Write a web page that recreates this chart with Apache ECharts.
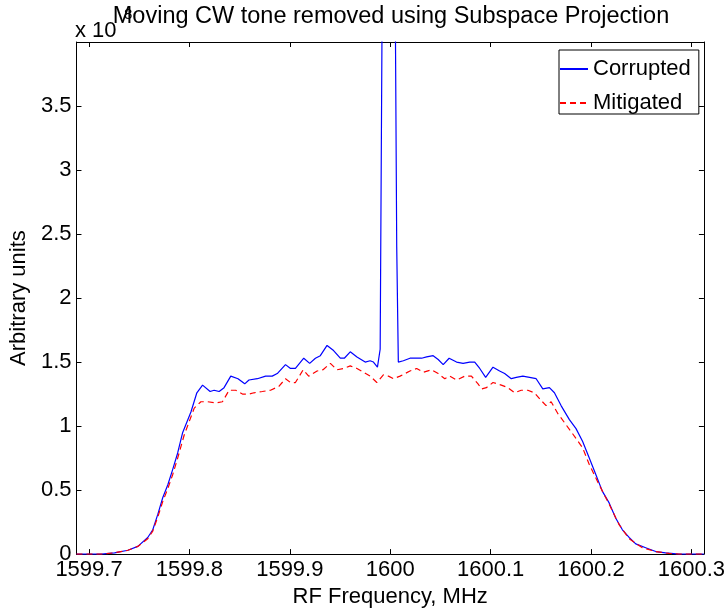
<!DOCTYPE html>
<html>
<head>
<meta charset="utf-8">
<script src="https://cdn.jsdelivr.net/npm/echarts@6/dist/echarts.min.js"></script>
<style>
html,body{margin:0;padding:0;background:#fff;}
#chart{width:728px;height:613px;}
</style>
</head>
<body>
<div id="chart"></div>
<script>
// ---- data (values in units of 1e8) ----
const xTicks = [1599.7, 1599.8, 1599.9, 1600.0, 1600.1, 1600.2, 1600.3];
const yTicks = [0, 0.5, 1, 1.5, 2, 2.5, 3, 3.5];

const blueFreq = [1599.6875, 1599.7122, 1599.7254, 1599.7387, 1599.7486, 1599.7585, 1599.7635, 1599.7685,
  1599.7734, 1599.7784, 1599.7833, 1599.7883, 1599.7933, 1599.8015, 1599.8074, 1599.8131, 1599.8206,
  1599.8246, 1599.8296, 1599.8345, 1599.8412, 1599.8484, 1599.8551, 1599.8593, 1599.8677, 1599.8759,
  1599.8825, 1599.8875, 1599.8957, 1599.9007, 1599.9056, 1599.9139, 1599.9198, 1599.9255, 1599.9304,
  1599.9371, 1599.9436, 1599.9503, 1599.9543, 1599.9602, 1599.9669, 1599.9751, 1599.9800, 1599.9833,
  1599.9873, 1599.9900, 1599.9984, 1600.0065, 1600.0081, 1600.0131, 1600.0197, 1600.0264, 1600.0313,
  1600.0363, 1600.0428, 1600.0478, 1600.0528, 1600.0587, 1600.0661, 1600.0726, 1600.0792, 1600.0842,
  1600.0892, 1600.0951, 1600.1024, 1600.1090, 1600.1140, 1600.1206, 1600.1256, 1600.1321, 1600.1388,
  1600.1454, 1600.1520, 1600.1586, 1600.1636, 1600.1702, 1600.1785, 1600.1851, 1600.1917, 1600.1983,
  1600.2049, 1600.2114, 1600.2181, 1600.2247, 1600.2313, 1600.2380, 1600.2446, 1600.2545, 1600.2645,
  1600.2744, 1600.2876, 1600.3125];
const blueVal = [0, 0, 0.01, 0.03, 0.06, 0.13, 0.19, 0.31,
  0.44, 0.54, 0.66, 0.79, 0.95, 1.11, 1.26, 1.32, 1.27,
  1.28, 1.27, 1.30, 1.39, 1.37, 1.33, 1.36, 1.37, 1.39,
  1.39, 1.41, 1.48, 1.45, 1.45, 1.53, 1.49, 1.53, 1.55,
  1.63, 1.59, 1.53, 1.53, 1.58, 1.54, 1.50, 1.51, 1.50,
  1.46, 1.60, 13.0, 2.40, 1.50, 1.51, 1.53, 1.53, 1.53,
  1.54, 1.55, 1.52, 1.48, 1.53, 1.50, 1.49, 1.50, 1.50,
  1.45, 1.38, 1.46, 1.43, 1.41, 1.37, 1.38, 1.39, 1.38,
  1.37, 1.29, 1.30, 1.26, 1.16, 1.05, 0.98, 0.88, 0.75,
  0.62, 0.49, 0.40, 0.28, 0.19, 0.13, 0.08, 0.05, 0.02,
  0.01, 0, 0];

const redFreq = [1599.6875, 1599.7122, 1599.7254, 1599.7387, 1599.7486, 1599.7585, 1599.7635, 1599.7685,
  1599.7734, 1599.7784, 1599.7833, 1599.7883, 1599.7948, 1599.8048, 1599.8114, 1599.8181, 1599.8263,
  1599.8329, 1599.8395, 1599.8461, 1599.8528, 1599.8593, 1599.8643, 1599.8726, 1599.8808, 1599.8891,
  1599.8957, 1599.9007, 1599.9056, 1599.9133, 1599.9188, 1599.9272, 1599.9331, 1599.9404, 1599.9470,
  1599.9536, 1599.9602, 1599.9669, 1599.9734, 1599.9800, 1599.9867, 1599.9932, 1599.9982, 1600.0032,
  1600.0098, 1600.0197, 1600.0264, 1600.0329, 1600.0413, 1600.0478, 1600.0544, 1600.0593, 1600.0661,
  1600.0743, 1600.0809, 1600.0875, 1600.0909, 1600.0958, 1600.1024, 1600.1107, 1600.1173, 1600.1239,
  1600.1305, 1600.1371, 1600.1437, 1600.1504, 1600.1553, 1600.1603, 1600.1668, 1600.1752, 1600.1817,
  1600.1917, 1600.1983, 1600.2082, 1600.2181, 1600.2280, 1600.2380, 1600.2512, 1600.2645, 1600.2776,
  1600.2876, 1600.3125];
const redVal = [0, 0, 0.01, 0.03, 0.06, 0.12, 0.18, 0.29,
  0.41, 0.51, 0.62, 0.75, 0.93, 1.14, 1.19, 1.19, 1.18,
  1.19, 1.28, 1.28, 1.25, 1.25, 1.26, 1.27, 1.28, 1.31,
  1.37, 1.34, 1.34, 1.44, 1.39, 1.43, 1.44, 1.49, 1.44,
  1.45, 1.47, 1.45, 1.42, 1.39, 1.34, 1.40, 1.39, 1.37,
  1.39, 1.43, 1.45, 1.42, 1.44, 1.41, 1.37, 1.39, 1.36,
  1.39, 1.39, 1.33, 1.29, 1.30, 1.34, 1.32, 1.30, 1.26,
  1.28, 1.28, 1.26, 1.20, 1.16, 1.19, 1.10, 1.01, 0.94,
  0.83, 0.70, 0.54, 0.39, 0.23, 0.12, 0.05, 0.02, 0.005,
  0, 0];

const X_MIN = 1599.6875, X_MAX = 1600.3125, Y_MIN = 0, Y_MAX = 4;
const FONT = '"Liberation Sans", Arial, sans-serif';

const chart = echarts.init(document.getElementById('chart'), null, {renderer: 'canvas'});
const fmtX = v => String(Math.round(v * 10) / 10);
const fmtY = v => String(Math.round(v * 10) / 10);

const axisCommon = {
  axisLine: {show: true, onZero: false, lineStyle: {color: '#000', width: 1}},
  splitLine: {show: false}
};

chart.setOption({
  backgroundColor: '#fff',
  animation: false,
  textStyle: {fontFamily: FONT},
  grid: {left: 76, right: 22, top: 42, bottom: 53},
  xAxis: [
    Object.assign({}, axisCommon, {
      type: 'value', min: X_MIN, max: X_MAX, position: 'bottom',
      axisTick: {show: true, inside: true, length: 5, customValues: xTicks, lineStyle: {color: '#000'}},
      axisLabel: {customValues: xTicks, formatter: fmtX, fontSize: 22, color: '#000', margin: 5, fontFamily: FONT},
      name: 'RF Frequency, MHz', nameLocation: 'middle', nameGap: 31,
      nameTextStyle: {fontSize: 22, color: '#000', fontFamily: FONT}
    }),
    Object.assign({}, axisCommon, {
      type: 'value', min: X_MIN, max: X_MAX, position: 'top',
      axisTick: {show: true, inside: true, length: 5, customValues: xTicks, lineStyle: {color: '#000'}},
      axisLabel: {show: false}
    })
  ],
  yAxis: [
    Object.assign({}, axisCommon, {
      type: 'value', min: Y_MIN, max: Y_MAX, position: 'left',
      axisTick: {show: true, inside: true, length: 5, customValues: yTicks, lineStyle: {color: '#000'}},
      axisLabel: {customValues: yTicks, formatter: fmtY, fontSize: 22, color: '#000', margin: 5, fontFamily: FONT},
      name: 'Arbitrary units', nameLocation: 'middle', nameGap: 40,
      nameTextStyle: {fontSize: 22, color: '#000', fontFamily: FONT}
    }),
    Object.assign({}, axisCommon, {
      type: 'value', min: Y_MIN, max: Y_MAX, position: 'right',
      axisTick: {show: true, inside: true, length: 5, customValues: yTicks, lineStyle: {color: '#000'}},
      axisLabel: {show: false}
    })
  ],
  legend: {
    orient: 'vertical', left: 559, top: 50,
    padding: [8, 8, 0, 0], itemGap: 12, itemWidth: 28, itemHeight: 14,
    backgroundColor: '#fff', borderColor: '#000', borderWidth: 1, borderRadius: 0,
    itemStyle: {opacity: 0},
    textStyle: {fontSize: 22, color: '#000', fontFamily: FONT},
    data: ['Corrupted', 'Mitigated']
  },
  graphic: [
    {type: 'text', x: 391, y: 17, z: 100,
     style: {text: 'Moving CW tone removed using Subspace Projection', fill: '#000',
             font: '23.5px ' + FONT, align: 'center', verticalAlign: 'middle'}},
    {type: 'text', x: 75, y: 31, z: 90,
     style: {text: 'x 10', fill: '#000', font: '22px ' + FONT, align: 'left', verticalAlign: 'middle'}},
    {type: 'text', x: 124, y: 15, z: 90,
     style: {text: '8', fill: '#000', font: '15px ' + FONT, align: 'left', verticalAlign: 'middle'}}
  ],
  series: [
    {
      name: 'Corrupted', type: 'line', xAxisIndex: 0, yAxisIndex: 0,
      data: blueFreq.map((f, i) => [f, blueVal[i]]),
      showSymbol: false, symbol: 'none', clip: true,
      lineStyle: {color: '#0000ff', width: 1.2},
      itemStyle: {color: '#0000ff'}
    },
    {
      name: 'Mitigated', type: 'line', xAxisIndex: 0, yAxisIndex: 0,
      data: redFreq.map((f, i) => [f, redVal[i]]),
      showSymbol: false, symbol: 'none', clip: true,
      lineStyle: {color: '#ff0000', width: 1.2, type: [6, 4]},
      itemStyle: {color: '#ff0000'}
    }
  ]
});
</script>
</body>
</html>
